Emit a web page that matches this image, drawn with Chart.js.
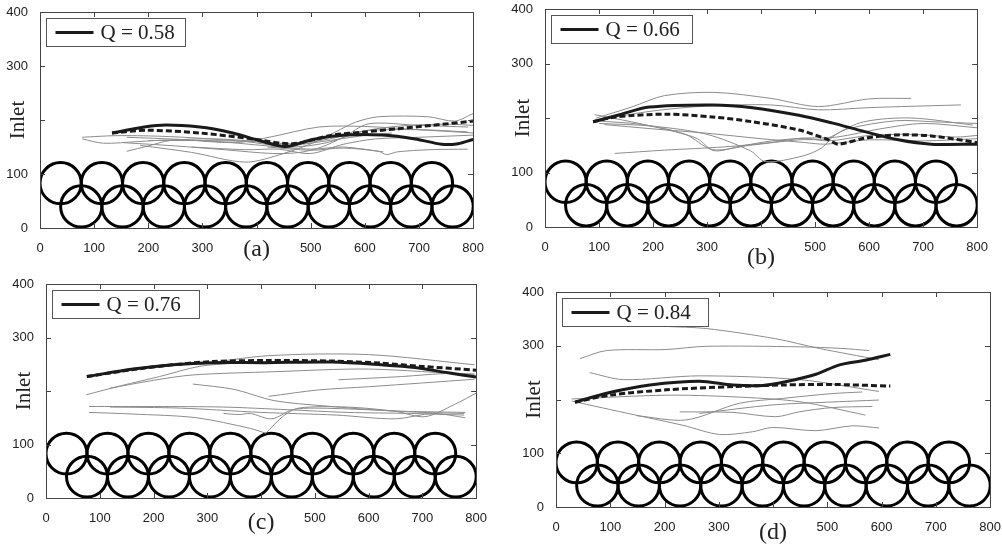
<!DOCTYPE html>
<html>
<head>
<meta charset="utf-8">
<script src="https://cdn.jsdelivr.net/npm/chart.js@4.4.1/dist/chart.umd.min.js"></script>
<style>
  html, body { margin: 0; padding: 0; background: #fff; }
  body { width: 1002px; height: 545px; position: relative; overflow: hidden; }
  canvas { position: absolute; }
</style>
</head>
<body>
<canvas id="chart-a"></canvas>
<canvas id="chart-b"></canvas>
<canvas id="chart-c"></canvas>
<canvas id="chart-d"></canvas>
<script>
(function () {
    'use strict';

    // axis ticks (some labels are blank in the original figure)
    var xTicks = [0, 100, 200, 300, 400, 500, 600, 700, 800];
    var xTickLabels = ['0', '100', '200', '300', '', '500', '600', '700', '800'];
    var yTicks = [0, 100, 200, 300, 400];
    var yTickLabels = ['0', '100', '', '300', '400'];

    // staggered tube bank, in data units
    var tubeTopX = [38.1, 114.3, 190.5, 266.7, 342.9, 419.1, 495.3, 571.5, 647.7, 723.9];
    var tubeBottomX = [76.2, 152.4, 228.6, 304.8, 381, 457.2, 533.4, 609.6, 685.8, 762];
    var tubeRowY = [83, 40];
    var tubeRadius = 38.1;

    var qLabels = ['Q = 0.58', 'Q = 0.66', 'Q = 0.76', 'Q = 0.84'];
    var panelTags = ['(a)', '(b)', '(c)', '(d)'];

    // (a)
    var solidA = [[133,176],[215,190],[295,187],[356,176],[405,162],[454,151],[503,164],[564,172],[632,172],[693,165],[742,155],[772,156],[800,164]];
    var dashedA = [[133,176],[197,181],[295,176],[393,165],[466,156],[540,172],[601,178],[662,184],[723,190],[800,198]];
    var grayA = [
        [[78,168],[140,171],[220,170],[300,166],[380,160],[450,152],[520,160],[590,170],[650,176]],
        [[78,165],[117,157],[180,160],[240,163],[330,160],[420,152],[500,146],[560,150],[634,141]],
        [[160,142],[200,152],[240,162],[320,165],[400,160],[460,150],[530,158],[600,180],[680,190],[760,192],[800,190]],
        [[154,158],[250,152],[340,145],[429,138],[480,140],[520,150],[560,168],[607,193],[699,190],[791,187]],
        [[185,153],[280,140],[380,122],[450,138],[510,160],[546,178],[583,196],[625,206],[717,206],[766,198],[800,212]],
        [[160,168],[260,164],[360,158],[423,168],[515,187],[600,188],[700,182],[800,176]],
        [[280,150],[380,145],[440,146],[500,138],[560,155],[620,165],[700,168],[800,172]],
        [[420,150],[500,144],[560,148],[625,142],[640,136],[660,141],[720,145],[790,146]],
        [[200,162],[300,162],[400,160],[470,156],[540,166],[600,180],[700,182],[790,178]]
    ];

    // (b)
    var solidB = [[89,193],[138,206],[193,220],[310,224],[384,219],[470,205],[531,191],[592,175],[654,160],[715,152],[800,152]];
    var dashedB = [[89,193],[132,202],[224,207],[310,202],[384,193],[470,178],[525,160],[543,152],[592,163],[654,169],[715,167],[800,155]];
    var grayB = [
        [[95,200],[160,220],[221,241],[313,247],[418,236],[506,221],[599,235],[678,236]],
        [[100,197],[200,213],[300,222],[418,224],[506,215],[600,219],[660,221],[770,224]],
        [[92,206],[160,193],[240,175],[282,162],[313,140],[360,148],[420,158],[480,163],[540,165],[620,180],[700,190],[800,182]],
        [[90,195],[180,188],[260,170],[310,142],[380,150],[470,160],[520,162],[560,180],[650,195],[720,193],[800,190]],
        [[129,135],[221,141],[332,147],[418,155],[476,163],[525,158],[600,168],[680,170],[760,165],[800,168]],
        [[100,190],[200,185],[300,170],[380,140],[408,120],[476,130],[512,145],[537,169],[590,193],[678,200],[792,187]],
        [[110,188],[200,180],[300,172],[400,162],[480,155],[520,152],[600,160],[700,158],[800,162]]
    ];

    // (c)
    var solidC = [[76,227],[162,241],[236,249],[310,253],[409,253],[532,254],[624,249],[686,244],[748,234],[800,226]];
    var dashedC = [[76,227],[162,240],[236,249],[310,255],[409,257],[532,256],[624,252],[700,246],[800,239]];
    var grayC = [
        [[285,250],[414,266],[600,268],[797,249]],
        [[75,193],[140,210],[211,227],[285,246],[350,252]],
        [[118,205],[200,220],[273,230],[424,236],[600,241],[797,230]],
        [[544,221],[661,227],[748,233],[797,232]],
        [[273,213],[350,203],[424,182],[520,172],[640,163],[780,160]],
        [[414,190],[507,202],[600,208],[700,215],[797,222]],
        [[80,171],[200,171],[330,170],[450,165],[560,160],[680,158],[778,155]],
        [[80,160],[160,157],[280,150],[380,130],[409,121]],
        [[330,158],[360,156],[380,158],[420,148],[458,165],[500,168],[600,165],[700,160],[778,158]],
        [[409,121],[440,152],[470,168],[560,170],[650,162],[705,152],[760,175],[800,196]],
        [[119,170],[250,168],[400,160],[540,155],[650,148],[720,158],[780,150]]
    ];

    // (d)
    var solidD = [[35,195],[99,213],[173,227],[264,234],[326,227],[381,226],[423,233],[479,247],[521,264],[570,273],[616,284]];
    var dashedD = [[35,195],[99,208],[203,218],[326,224],[417,227],[509,228],[616,225]];
    var grayD = [
        [[200,336],[277,332],[405,313],[485,295],[595,274]],
        [[44,276],[93,291],[203,293],[277,299],[448,298],[527,295],[577,291]],
        [[62,250],[124,237],[264,244],[448,237],[595,215]],
        [[29,201],[203,208],[326,205],[448,196],[570,171]],
        [[29,197],[142,172],[234,152],[301,135],[362,140],[399,148],[479,142],[546,151],[595,147]],
        [[148,170],[240,162],[338,193],[417,202],[509,211],[564,214]],
        [[228,177],[326,176],[405,168],[448,177],[509,185],[583,187]],
        [[264,174],[400,190],[500,195],[595,199]]
    ];

    // page layout: plot box [left, top, right, bottom] in page pixels
    var PAD_L = 40, PAD_T = 12, PAD_R = 14, PAD_B = 50;
    var panels = [
        { id: 'chart-a', box: [40, 12, 475, 228], solid: solidA, dashed: dashedA, gray: grayA, legendW: 139, tagGap: 21.5 },
        { id: 'chart-b', box: [545, 9, 979, 227], solid: solidB, dashed: dashedB, gray: grayB, legendW: 141, tagGap: 31 },
        { id: 'chart-c', box: [46, 284, 478, 498], solid: solidC, dashed: dashedC, gray: grayC, legendW: 147, tagGap: 25 },
        { id: 'chart-d', box: [556, 292, 992, 507], solid: solidD, dashed: dashedD, gray: grayD, legendW: 146, tagGap: 26 }
    ];

    function toPoints(pairs) {
        return pairs.map(function (p) { return { x: p[0], y: p[1] }; });
    }

    var axesFrame = {
        id: 'axesFrame',
        beforeDatasetsDraw: function (chart) {
            var ctx = chart.ctx, a = chart.chartArea;
            var xs = chart.scales.x, ys = chart.scales.y;
            var rx = xs.getPixelForValue(tubeRadius) - xs.getPixelForValue(0);
            var ry = ys.getPixelForValue(0) - ys.getPixelForValue(tubeRadius);
            ctx.save();
            ctx.beginPath();
            ctx.rect(a.left, a.top, a.right - a.left, a.bottom - a.top);
            ctx.clip();
            ctx.lineWidth = 3;
            ctx.strokeStyle = '#000';
            [tubeTopX, tubeBottomX].forEach(function (row, r) {
                row.forEach(function (cx) {
                    ctx.beginPath();
                    ctx.ellipse(xs.getPixelForValue(cx), ys.getPixelForValue(tubeRowY[r]), rx, ry, 0, 0, Math.PI * 2);
                    ctx.stroke();
                });
            });
            ctx.restore();
        },
        afterDatasetsDraw: function (chart, args, opts) {
            var ctx = chart.ctx, a = chart.chartArea;
            var xs = chart.scales.x, ys = chart.scales.y;
            ctx.save();
            ctx.strokeStyle = '#444';
            ctx.lineWidth = 1;
            ctx.strokeRect(Math.round(a.left) + 0.5, Math.round(a.top) + 0.5,
                Math.round(a.right - a.left), Math.round(a.bottom - a.top));
            ctx.beginPath();
            xTicks.forEach(function (v) {
                if (v === xs.min || v === xs.max) return;
                var px = Math.round(xs.getPixelForValue(v)) + 0.5;
                ctx.moveTo(px, a.bottom); ctx.lineTo(px, a.bottom - 5);
                ctx.moveTo(px, a.top); ctx.lineTo(px, a.top + 5);
            });
            yTicks.forEach(function (v) {
                if (v === ys.min || v === ys.max) return;
                var py = Math.round(ys.getPixelForValue(v)) + 0.5;
                ctx.moveTo(a.left, py); ctx.lineTo(a.left + 5, py);
                ctx.moveTo(a.right, py); ctx.lineTo(a.right - 5, py);
            });
            ctx.stroke();

            // legend box, top-left inside the axes
            var ds = chart.data.datasets[0];
            var lx = Math.round(a.left) + 6.5, ly = Math.round(a.top) + 6.5;
            var lw = opts.width, lh = 28;
            ctx.fillStyle = '#fff';
            ctx.fillRect(lx, ly, lw, lh);
            ctx.strokeStyle = '#555';
            ctx.strokeRect(lx, ly, lw, lh);
            ctx.beginPath();
            ctx.strokeStyle = ds.borderColor;
            ctx.lineWidth = 3;
            ctx.moveTo(lx + 9, ly + lh / 2);
            ctx.lineTo(lx + 47, ly + lh / 2);
            ctx.stroke();
            ctx.fillStyle = '#222';
            ctx.font = '21px "Liberation Serif", "Times New Roman", serif';
            ctx.textBaseline = 'middle';
            ctx.textAlign = 'left';
            ctx.fillText(ds.label, lx + 54, ly + lh / 2 + 1);
            ctx.restore();
        }
    };

    function makeChart(p, i) {
        var canvas = document.getElementById(p.id);
        var w = (p.box[2] - p.box[0]) + PAD_L + PAD_R;
        var h = (p.box[3] - p.box[1]) + PAD_T + PAD_B;
        canvas.width = w;
        canvas.height = h;
        canvas.style.left = (p.box[0] - PAD_L) + 'px';
        canvas.style.top = (p.box[1] - PAD_T) + 'px';

        var datasets = [
            { label: qLabels[i], data: toPoints(p.solid), borderColor: '#1a1a1a', borderWidth: 3 },
            { label: 'mean', data: toPoints(p.dashed), borderColor: '#1a1a1a', borderWidth: 3, borderDash: [6, 3] }
        ];
        p.gray.forEach(function (g, k) {
            datasets.push({ label: 'track ' + (k + 1), data: toPoints(g), borderColor: '#8c8c8c', borderWidth: 1 });
        });
        datasets.forEach(function (d) {
            d.showLine = true;
            d.pointRadius = 0;
            d.tension = 0.3;
            d.fill = false;
        });

        var tagFont = 24;
        var tagPadBottom = PAD_B - tagFont * 0.6 - p.tagGap;

        return new Chart(canvas, {
            type: 'scatter',
            data: { datasets: datasets },
            options: {
                responsive: false,
                animation: false,
                events: [],
                layout: { padding: { top: PAD_T, right: PAD_R, left: 0, bottom: 0 } },
                scales: {
                    x: {
                        type: 'linear',
                        min: 0,
                        max: 800,
                        grid: { display: false },
                        border: { display: false },
                        ticks: {
                            stepSize: 100,
                            autoSkip: false,
                            maxRotation: 0,
                            padding: 5,
                            color: '#222',
                            font: { family: '"Liberation Sans", Arial, sans-serif', size: 13 },
                            callback: function (v) { return xTickLabels[xTicks.indexOf(v)]; }
                        },
                        title: {
                            display: true,
                            text: panelTags[i],
                            color: '#222',
                            font: { family: '"Liberation Serif", "Times New Roman", serif', size: tagFont },
                            padding: { top: 0, bottom: tagPadBottom }
                        },
                        afterFit: function (s) { s.height = PAD_B; }
                    },
                    y: {
                        type: 'linear',
                        min: 0,
                        max: 400,
                        grid: { display: false },
                        border: { display: false },
                        ticks: {
                            stepSize: 100,
                            padding: 4,
                            color: '#222',
                            font: { family: '"Liberation Sans", Arial, sans-serif', size: 13 },
                            callback: function (v) { return yTickLabels[yTicks.indexOf(v)]; }
                        },
                        title: {
                            display: true,
                            text: 'Inlet',
                            color: '#222',
                            font: { family: '"Liberation Serif", "Times New Roman", serif', size: 21 },
                            padding: { top: 6, bottom: 0 }
                        },
                        afterFit: function (s) { s.width = PAD_L; }
                    }
                },
                plugins: {
                    legend: { display: false },
                    tooltip: { enabled: false },
                    axesFrame: { width: p.legendW }
                }
            },
            plugins: [axesFrame]
        });
    }

    panels.forEach(makeChart);
})();
</script>
</body>
</html>
